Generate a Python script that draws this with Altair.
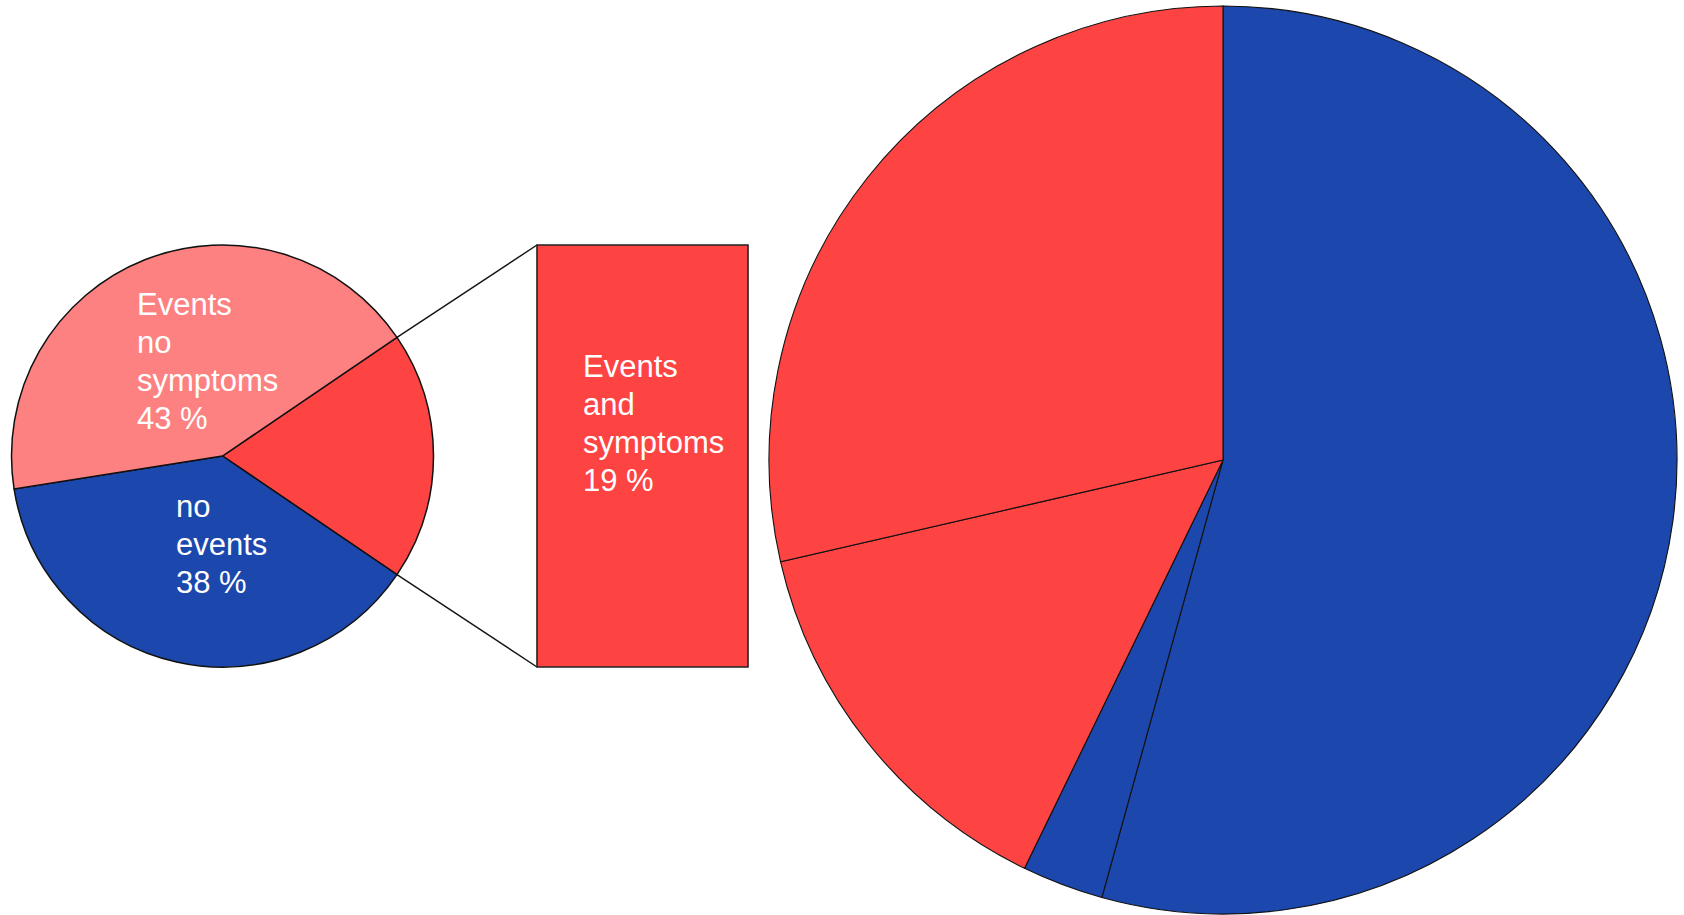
import math

import altair as alt
import pandas as pd

# ---- data -------------------------------------------------------------
# Left pie: share of patients by outcome (percent)
outcome_names = ["Events and symptoms", "no events", "Events no symptoms"]
outcome_share = [19, 38, 43]
outcome_labels = ["Events\nand\nsymptoms\n19 %", "no\nevents\n38 %", "Events\nno\nsymptoms\n43 %"]

# Right pie: finer split (percent), clockwise from 12 o'clock
split_share = [54.3, 2.9, 14.2, 28.6]
split_group = ["no events", "no events", "events", "events"]

# ---- styling ----------------------------------------------------------
BLUE = "#1c47ad"
RED = "#fe4343"
PINK = "#fe8181"
outcome_colors = [RED, BLUE, PINK]
split_colors = {"no events": BLUE, "events": RED}

W, H = 1684, 915
FONT = "Liberation Sans"

# left pie geometry
small_cx, small_cy, small_r = 222.5, 456, 211
# right pie geometry
big_cx, big_cy, big_r = 1223, 460, 454
# exploded bar (horizontal extent)
bar_x1, bar_x2 = 537, 748

total = sum(outcome_share)
# rotate the left pie so the first slice points straight at the bar
start = math.pi / 2 - math.pi * outcome_share[0] / total

small_df = pd.DataFrame({
    "name": outcome_names,
    "share": outcome_share,
    "color": outcome_colors,
    "order": list(range(len(outcome_names))),
})

big_df = pd.DataFrame({
    "share": split_share,
    "color": [split_colors[g] for g in split_group],
    "order": list(range(len(split_share))),
})

small_pie = alt.Chart(small_df).mark_arc(
    radius=small_r, stroke="#111", strokeWidth=1.5
).encode(
    x=alt.value(small_cx),
    y=alt.value(small_cy),
    theta=alt.Theta("share:Q", stack=True,
                    scale=alt.Scale(range=[start, start + 2 * math.pi])),
    color=alt.Color("color:N", scale=None),
    order=alt.Order("order:Q"),
)

big_pie = alt.Chart(big_df).mark_arc(
    radius=big_r, stroke="#111", strokeWidth=1.1
).encode(
    x=alt.value(big_cx),
    y=alt.value(big_cy),
    theta=alt.Theta("share:Q", stack=True,
                    scale=alt.Scale(range=[0, 2 * math.pi])),
    color=alt.Color("color:N", scale=None),
    order=alt.Order("order:Q"),
)

# exploded bar for the first slice; its height spans the pie's diameter
bar_df = pd.DataFrame({"lo": [0], "hi": [outcome_share[0]]})
bar = alt.Chart(bar_df).mark_rect(
    color=RED, stroke="#222", strokeWidth=1.6
).encode(
    x=alt.value(bar_x1),
    x2=alt.value(bar_x2),
    y=alt.Y("lo:Q", axis=None,
            scale=alt.Scale(domain=[0, outcome_share[0]],
                            range=[small_cy + small_r, small_cy - small_r])),
    y2="hi:Q",
)

# connector lines from the slice edge to the bar corners
a0 = start
a1 = start + 2 * math.pi * outcome_share[0] / total
connectors = []
for ang, yb in [(a0, small_cy - small_r), (a1, small_cy + small_r)]:
    px = small_cx + small_r * math.sin(ang)
    py = small_cy - small_r * math.cos(ang)
    connectors.append(
        alt.Chart(pd.DataFrame({"k": [0]})).mark_rule(
            color="#111", strokeWidth=1.4
        ).encode(
            x=alt.value(px), y=alt.value(py),
            x2=alt.value(bar_x1), y2=alt.value(yb),
        )
    )

# slice labels
label_pos = [(583, 377), (176, 517), (137, 315)]
labels = []
for text, (lx, ly) in zip(outcome_labels, label_pos):
    labels.append(
        alt.Chart(pd.DataFrame({"t": [text]})).mark_text(
            align="left", baseline="alphabetic", lineBreak="\n",
            lineHeight=38, font=FONT, fontSize=31, color="white",
        ).encode(
            x=alt.value(lx), y=alt.value(ly), text="t:N",
        )
    )

chart = alt.layer(
    small_pie, big_pie, *connectors, bar, *labels
).resolve_scale(
    theta="independent"
).properties(
    width=W, height=H, padding=0,
    autosize=alt.AutoSizeParams(type="none"),
    background="white",
).configure_view(stroke=None)

chart.save("out.html", embed_options={"renderer": "svg", "actions": False})
